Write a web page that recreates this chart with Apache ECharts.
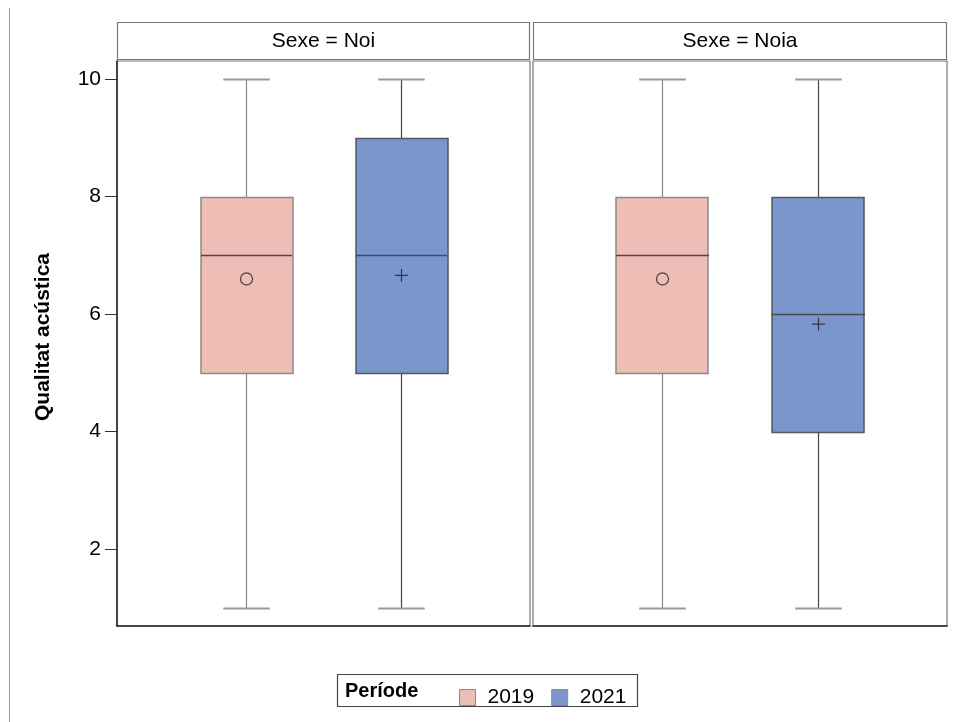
<!DOCTYPE html>
<html>
<head>
<meta charset="utf-8">
<script src="https://cdn.jsdelivr.net/npm/echarts@6/dist/echarts.min.js"></script>
<style>
  html, body { margin: 0; padding: 0; background: #fff; }
  #chart { width: 954px; height: 722px; }
</style>
</head>
<body>
<div id="chart"></div>
<script>
// panels (Sexe) and groups (Període)
const panels = ['Noi', 'Noia'];
const periods = ['2019', '2021'];

// [min, Q1, median, Q3, max] per period
const noiStats = [[1, 5, 7, 8, 10], [1, 5, 7, 9, 10]];
const noiaStats = [[1, 5, 7, 8, 10], [1, 4, 6, 8, 10]];
const noiMeans = [6.6, 6.66];
const noiaMeans = [6.6, 5.83];

const yTicks = [2, 4, 6, 8, 10];

const FONT = '"Liberation Sans", Arial, sans-serif';
const fills = ['#EDBDB6', '#7B96CC'];
const borders = ['#8f8a8a', '#505866'];
const whiskerColors = ['#8a8a8a', '#444'];

const chart = echarts.init(document.getElementById('chart'));

function makeRender(pi) {
    return function (params, api) {
        const x = api.value(0);
        const cx = Math.round(api.coord([x, 0])[0]) + 0.5;
        const yv = i => Math.round(api.coord([x, api.value(i)])[1]) + 0.5;
        const unit = api.size([1, 0])[0];
        const boxW = unit * 0.594;
        const capW = unit * 0.30;
        const yMin = yv(1), yQ1 = yv(2), yMed = yv(3), yQ3 = yv(4), yMax = yv(5);
        const meanY = api.coord([x, api.value(6)])[1];
        const lineSt = { stroke: whiskerColors[pi], lineWidth: 1.2 };
        const capSt = { stroke: '#999', lineWidth: 2 };
        const children = [
            { type: 'line', shape: { x1: cx, y1: yQ3, x2: cx, y2: yMax }, style: lineSt },
            { type: 'line', shape: { x1: cx, y1: yMin, x2: cx, y2: yQ1 }, style: lineSt },
            { type: 'line', shape: { x1: cx - capW / 2, y1: yMax, x2: cx + capW / 2, y2: yMax }, style: capSt },
            { type: 'line', shape: { x1: cx - capW / 2, y1: yMin, x2: cx + capW / 2, y2: yMin }, style: capSt },
            {
                type: 'rect',
                shape: { x: Math.round(cx - boxW / 2), y: yQ3, width: Math.round(boxW), height: yQ1 - yQ3 },
                style: { fill: fills[pi], stroke: borders[pi], lineWidth: 1.5 }
            },
            {
                type: 'line',
                shape: { x1: Math.round(cx - boxW / 2), y1: yMed, x2: Math.round(cx + boxW / 2), y2: yMed },
                style: { stroke: '#4a4a4a', lineWidth: 1.5 }
            }
        ];
        if (pi === 0) {
            children.push({ type: 'circle', shape: { cx: cx, cy: meanY, r: 6 },
                style: { fill: 'none', stroke: '#444', lineWidth: 1.2 } });
        } else {
            children.push({ type: 'line', shape: { x1: cx - 6.5, y1: meanY, x2: cx + 6.5, y2: meanY },
                style: { stroke: '#333', lineWidth: 1.2 } });
            children.push({ type: 'line', shape: { x1: cx, y1: meanY - 6.5, x2: cx, y2: meanY + 6.5 },
                style: { stroke: '#333', lineWidth: 1.2 } });
        }
        return { type: 'group', children: children };
    };
}

function buildData(stats, means, pi) {
    return [[pi + 1].concat(stats[pi], [means[pi]])];
}

const panelStats = [noiStats, noiaStats];
const panelMeans = [noiMeans, noiaMeans];

const series = [];
panels.forEach(function (p, gi) {
    periods.forEach(function (per, pi) {
        series.push({
            type: 'custom',
            name: per,
            xAxisIndex: gi,
            yAxisIndex: gi,
            itemStyle: { color: fills[pi], borderColor: '#888', borderWidth: 1 },
            encode: { x: 0, y: [1, 2, 3, 4, 5] },
            renderItem: makeRender(pi),
            data: buildData(panelStats[gi], panelMeans[gi], pi)
        });
    });
});

const grids = [
    { left: 117, top: 61, width: 413, height: 565 },
    { left: 533, top: 61, width: 414, height: 565 }
];

const headerGraphics = [];
panels.forEach(function (p, gi) {
    const g = grids[gi];
    headerGraphics.push({
        type: 'rect',
        shape: { x: g.left + 0.5, y: 22.5, width: g.width - 1, height: 37 },
        style: { fill: '#fff', stroke: '#777', lineWidth: 1.2 }
    });
    headerGraphics.push({
        type: 'text',
        x: g.left + g.width / 2, y: 41,
        style: { text: 'Sexe = ' + p, font: '21px ' + FONT, fill: '#000',
                 align: 'center', verticalAlign: 'middle' }
    });
});

const option = {
    backgroundColor: '#fff',
    animation: false,
    grid: grids.map(g => Object.assign({ show: true, borderColor: '#777', borderWidth: 1.2 }, g)),
    xAxis: grids.map((g, i) => ({
        type: 'value', gridIndex: i, min: 1 / 6, max: 17 / 6,
        axisLine: { show: true, onZero: false, lineStyle: { color: '#222', width: 1.5 } },
        axisTick: { show: false }, axisLabel: { show: false }, splitLine: { show: false }
    })),
    yAxis: [
        {
            type: 'value', gridIndex: 0, min: 0.69, max: 10.31,
            axisLine: { show: true, lineStyle: { color: '#222', width: 1.5 } },
            axisTick: { show: true, length: 12, customValues: yTicks, lineStyle: { color: '#333' } },
            axisLabel: { customValues: yTicks, margin: 16, fontFamily: FONT, fontSize: 21, color: '#000' },
            splitLine: { show: false }
        },
        {
            type: 'value', gridIndex: 1, min: 0.69, max: 10.31,
            axisLine: { show: false }, axisTick: { show: false }, axisLabel: { show: false },
            splitLine: { show: false }
        }
    ],
    legend: {
        data: periods,
        left: 454, top: 682,
        icon: 'rect', itemWidth: 16, itemHeight: 16, itemGap: 17,
        textStyle: { fontFamily: FONT, fontSize: 21, color: '#000', padding: [0, 0, 0, 7] },
        itemStyle: { borderColor: '#888', borderWidth: 1 }
    },
    graphic: headerGraphics.concat([
        {
            type: 'line', shape: { x1: 9.5, y1: 8, x2: 9.5, y2: 722 },
            style: { stroke: '#999', lineWidth: 1 }
        },
        {
            type: 'text', x: 43, y: 337, rotation: Math.PI / 2,
            style: { text: 'Qualitat acústica', font: 'bold 21px ' + FONT, fill: '#000',
                     align: 'center', verticalAlign: 'middle' }
        },
        {
            type: 'rect', shape: { x: 337.5, y: 674.5, width: 300, height: 32 },
            style: { fill: 'none', stroke: '#444', lineWidth: 1.2 }
        },
        {
            type: 'text', x: 345, y: 691,
            style: { text: 'Període', font: 'bold 20px ' + FONT, fill: '#000', verticalAlign: 'middle' }
        }
    ]),
    series: series
};

chart.setOption(option);
</script>
</body>
</html>
